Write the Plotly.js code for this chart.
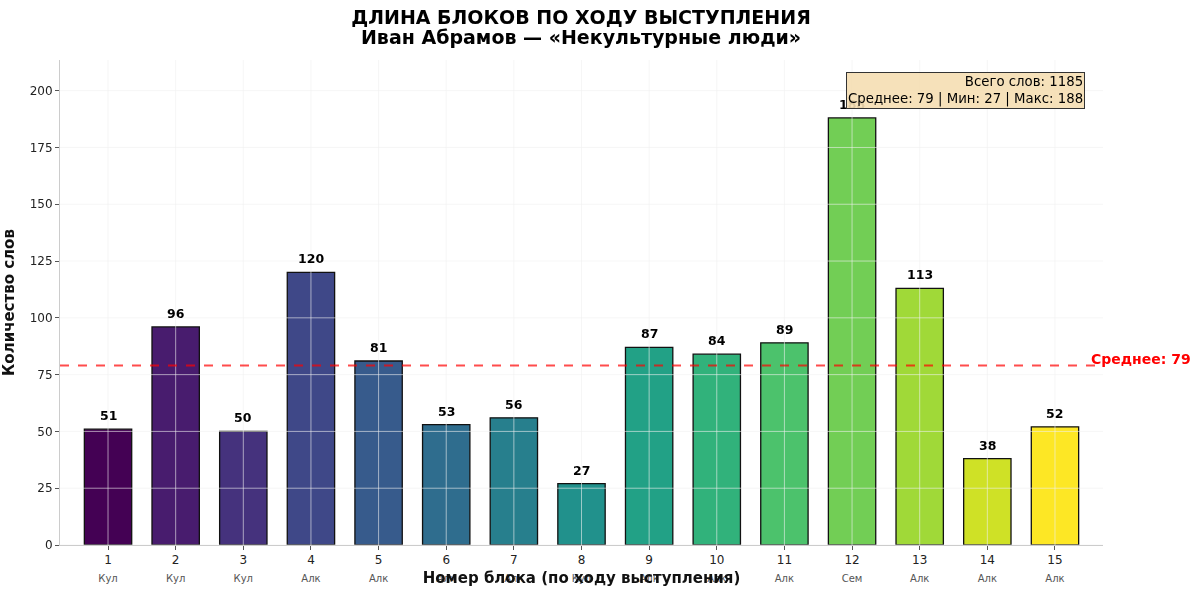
<!DOCTYPE html>
<html>
<head>
<meta charset="utf-8">
<script src="https://cdn.plot.ly/plotly-3.0.1.min.js"></script>
<style>html,body{margin:0;padding:0;background:#fff;}#chart{width:1200px;height:594px;}</style>
</head>
<body>
<div id="chart"></div>
<script>
const blocks = [1,2,3,4,5,6,7,8,9,10,11,12,13,14,15];
const wordCounts = [51,96,50,120,81,53,56,27,87,84,89,188,113,38,52];
const categories = ["Кул","Кул","Кул","Алк","Алк","Алк","Алк","Кул","Алк","Алк","Алк","Сем","Алк","Алк","Алк"];
const barColors = ["#440154","#481c6e","#45327d","#3f4888","#375b8c","#2f6d8e","#277f8d","#21918c","#22a186","#31b27b","#4cc26c","#72ce55","#a0d938","#cfe126","#fde725"];
const yTicks = [0,25,50,75,100,125,150,175,200];
const meanValue = 79, minValue = 27, maxValue = 188, totalWords = 1185;

const font = "DejaVu Sans, Verdana, sans-serif";
const gridColor = "rgba(240,240,240,0.6)";

const traces = [
  {
    type: "bar",
    x: blocks,
    y: wordCounts,
    width: 0.7,
    marker: {color: barColors, line: {color: "#111", width: 1.3}},
    hoverinfo: "x+y",
    xaxis: "x", yaxis: "y"
  },
  {
    type: "scatter",
    mode: "markers",
    x: blocks,
    y: wordCounts,
    opacity: 0,
    hoverinfo: "skip",
    showlegend: false,
    xaxis: "x2", yaxis: "y"
  }
];

const shapes = [];
yTicks.forEach(v => shapes.push({type:"line", xref:"paper", yref:"y", x0:0, x1:1, y0:v, y1:v, layer:"above", line:{color:gridColor, width:1}}));
blocks.forEach(b => shapes.push({type:"line", xref:"x", yref:"paper", x0:b, x1:b, y0:0, y1:1, layer:"above", line:{color:gridColor, width:1}}));
shapes.push({type:"line", xref:"paper", yref:"y", x0:0, x1:1, y0:meanValue, y1:meanValue, layer:"above", line:{color:"rgba(255,0,0,0.7)", width:2, dash:"dash"}});

const annotations = [];
blocks.forEach((b,i) => annotations.push({
  x: b, y: wordCounts[i], xref:"x", yref:"y", text: String(wordCounts[i]),
  showarrow:false, yanchor:"bottom", yshift:4,
  font:{family:font, size:12.5, color:"#000", weight:"bold"}
}));
annotations.push({
  x: 15.5, y: meanValue, xref:"x", yref:"y", text: "Среднее: " + meanValue,
  showarrow:false, xanchor:"left", yanchor:"middle", yshift:7,
  font:{family:font, size:14, color:"red", weight:"bold"}
});
annotations.push({
  x: 0.983, y: 0.975, xref:"paper", yref:"paper",
  text: "Всего слов: " + totalWords + "<br>Среднее: " + meanValue + " | Мин: " + minValue + " | Макс: " + maxValue,
  showarrow:false, xanchor:"right", yanchor:"top", align:"right",
  bgcolor:"rgba(245,222,179,0.9)", bordercolor:"#333", borderwidth:1, borderpad:1,
  font:{family:font, size:13.3, color:"#000"}
});

const layout = {
  width: 1200, height: 594,
  margin: {l:60, r:97, t:60, b:49},
  paper_bgcolor:"#fff", plot_bgcolor:"#fff",
  showlegend:false,
  bargap: 0.3,
  title: {
    text: "<span style='font-size:19px'><b>ДЛИНА БЛОКОВ ПО ХОДУ ВЫСТУПЛЕНИЯ</b></span><br><span style='font-size:19px'><b>Иван Абрамов — «Некультурные люди»</b></span>",
    font: {family:font, size:15.4, color:"#000"},
    x: 0.4842, xanchor:"center", xref:"container",
    y: 0.959, yanchor:"middle", yref:"container"
  },
  xaxis: {
    range:[0.29, 15.71], tickvals: blocks, ticktext: blocks.map(String),
    showgrid:false, zeroline:false,
    showline:true, linecolor:"#cccccc", linewidth:1,
    ticks:"outside", ticklen:4, tickcolor:"#555",
    tickfont:{family:font, size:12, color:"#222"},
    title:{text:"<b>Номер блока (по ходу выступления)</b>", font:{family:font, size:15, color:"#111"}, standoff:6}
  },
  xaxis2: {
    overlaying:"x", anchor:"y", side:"bottom", matches:"x",
    tickvals: blocks, ticktext: categories,
    showgrid:false, zeroline:false, showline:false, ticks:"",
    ticklabelstandoff: 26,
    tickfont:{family:font, size:10, color:"#555"}
  },
  yaxis: {
    range:[0, 213.5], tickvals: yTicks,
    showgrid:false, zeroline:false,
    showline:true, linecolor:"#cccccc", linewidth:1,
    ticks:"outside", ticklen:4, tickcolor:"#555",
    tickfont:{family:font, size:12, color:"#222"},
    title:{text:"<b>Количество слов</b>", font:{family:font, size:15, color:"#111"}, standoff:12}
  },
  shapes: shapes,
  annotations: annotations
};

Plotly.newPlot("chart", traces, layout, {displayModeBar:false, staticPlot:true});
</script>
</body>
</html>
